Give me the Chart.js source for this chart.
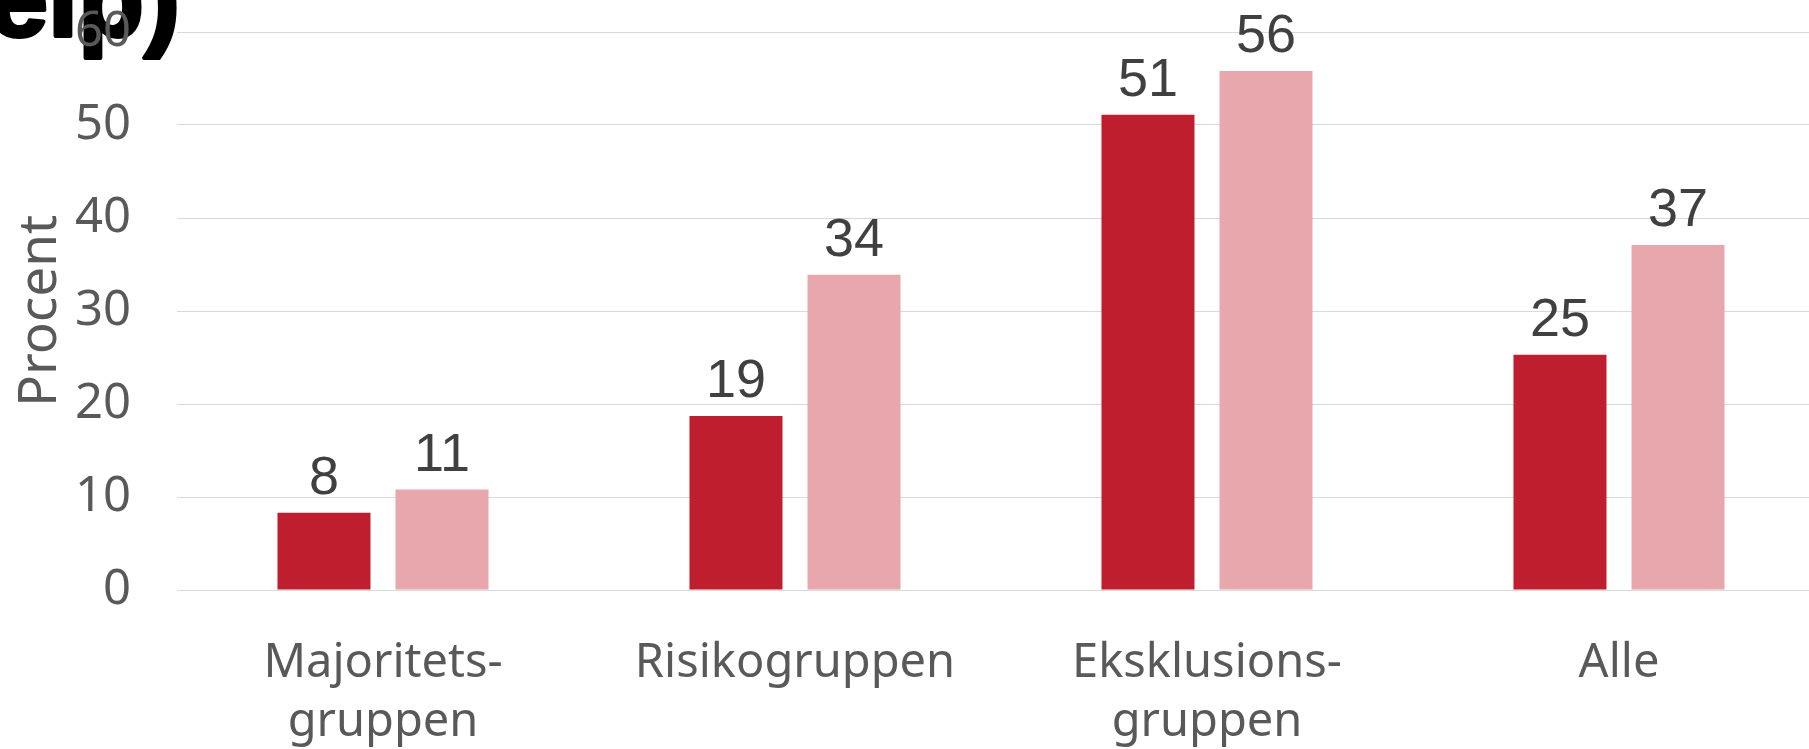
<!DOCTYPE html>
<html>
<head>
<meta charset="utf-8">
<script src="https://cdn.jsdelivr.net/npm/chart.js@4"></script>
<style>
    html, body { margin: 0; padding: 0; background: #fff; overflow: hidden; }
    #wrap { width: 1830px; height: 749px; }
</style>
</head>
<body>
<div id="wrap"><canvas id="myChart"></canvas></div>
<script>
const categories = [['Majoritets-', 'gruppen'], 'Risikogruppen', ['Eksklusions-', 'gruppen'], 'Alle'];
const seriesDark = [8.3, 18.7, 51.1, 25.3];
const seriesLight = [10.8, 33.9, 55.8, 37.1];
const yTicks = [0, 10, 20, 30, 40, 50, 60];
const titleText = '(hjelp)';

// tal over søjlerne
const valueLabels = {
    id: 'valueLabels',
    afterDatasetsDraw(chart) {
        const ctx = chart.ctx;
        ctx.save();
        ctx.font = '54px "Liberation Sans"';
        ctx.fillStyle = '#404040';
        ctx.textAlign = 'center';
        ctx.textBaseline = 'alphabetic';
        chart.data.datasets.forEach((ds, i) => {
            chart.getDatasetMeta(i).data.forEach((bar, j) => {
                ctx.fillText(String(Math.round(ds.data[j])), bar.x, bar.y - 19);
            });
        });
        ctx.restore();
    }
};

// afskåret overskrift øverst til venstre
const cutTitle = {
    id: 'cutTitle',
    beforeDraw(chart) {
        const ctx = chart.ctx;
        ctx.save();
        ctx.font = 'bold 108px "Liberation Sans"';
        ctx.fillStyle = '#000';
        ctx.strokeStyle = '#000';
        ctx.lineWidth = 4;
        ctx.lineJoin = 'round';
        ctx.textAlign = 'right';
        ctx.textBaseline = 'alphabetic';
        ctx.strokeText(titleText, 180, 36);
        ctx.fillText(titleText, 180, 36);
        ctx.restore();
    }
};

const ctx = document.getElementById('myChart').getContext('2d');
const myChart = new Chart(ctx, {
    type: 'bar',
    data: {
        labels: categories,
        datasets: [{
            label: 'A',
            data: seriesDark,
            backgroundColor: '#BE1E2D',
            categoryPercentage: 0.573,
            barPercentage: 0.788
        }, {
            label: 'B',
            data: seriesLight,
            backgroundColor: '#E8A7AD',
            categoryPercentage: 0.573,
            barPercentage: 0.788
        }]
    },
    options: {
        responsive: true,
        maintainAspectRatio: false,
        animation: false,
        layout: { padding: { top: 32, right: 5, left: 0, bottom: 0 } },
        plugins: {
            legend: { display: false },
            tooltip: { enabled: false }
        },
        scales: {
            x: {
                grid: { display: false },
                border: { display: false },
                ticks: {
                    color: '#595959',
                    font: { family: '"Noto Sans"', size: 47, lineHeight: 1.25 },
                    padding: 36,
                    maxRotation: 0,
                    autoSkip: false
                },
                afterFit: (s) => { s.height = 159 }
            },
            y: {
                min: 0,
                max: 60,
                grid: { color: '#d9d9d9', lineWidth: 1, drawTicks: false },
                border: { display: false },
                ticks: {
                    color: '#595959',
                    font: { family: '"Noto Sans"', size: 49 },
                    padding: 46
                },
                afterBuildTicks: (s) => { s.ticks = yTicks.map(v => ({ value: v })) },
                title: {
                    display: true,
                    text: 'Procent',
                    color: '#595959',
                    font: { family: '"Noto Sans"', size: 53, lineHeight: 1.2 },
                    padding: { top: 9, bottom: 0 }
                },
                afterFit: (s) => {
                    s.width = 177;
                    s.paddingTop = 0;
                    s.paddingBottom = 0;
                }
            }
        }
    },
    plugins: [cutTitle, valueLabels]
});
</script>
</body>
</html>
